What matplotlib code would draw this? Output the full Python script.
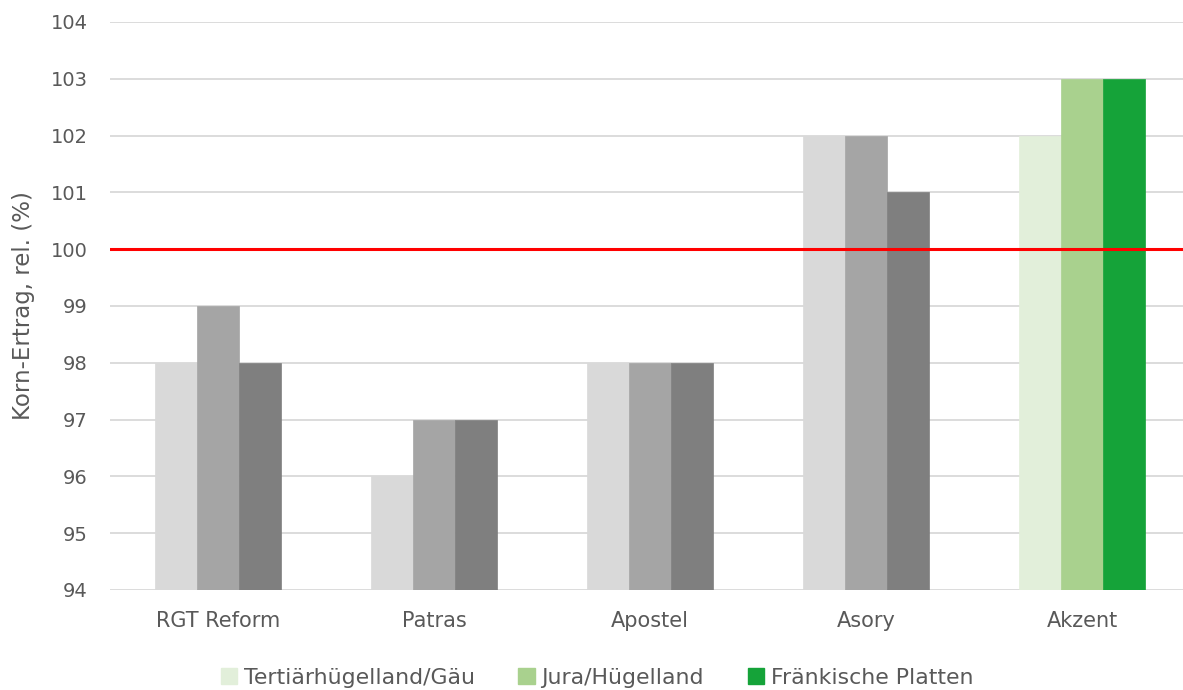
import matplotlib
matplotlib.use("Agg")
import matplotlib.pyplot as plt
from matplotlib.patches import Patch
import numpy as np

plt.rcParams['font.family'] = ['DejaVu Sans']

categories = ["RGT Reform", "Patras", "Apostel", "Asory", "Akzent"]
series_names = ["Tertiärhügelland/Gäu", "Jura/Hügelland", "Fränkische Platten"]
tertiaer = [98, 96, 98, 102, 102]
jura = [99, 97, 98, 102, 103]
fraenkisch = [98, 97, 98, 101, 103]
reference_value = 100
y_ticks = list(range(94, 105))

grey_colors = ["#D9D9D9", "#A5A5A5", "#7F7F7F"]
green_colors = ["#E2EFDA", "#A9D18E", "#15A339"]
text_color = "#595959"

fig = plt.figure(figsize=(11.83, 6.9), dpi=100)
ax = fig.add_axes([110/1183, 100/690, 1 - 110/1183, 568/690])

x = np.arange(len(categories))
w = 0.194
data = [tertiaer, jura, fraenkisch]
for i, vals in enumerate(data):
    cols = [green_colors[i] if c == "Akzent" else grey_colors[i] for c in categories]
    ax.bar(x + (i - 1) * w, np.array(vals) - 94, width=w, bottom=94, color=cols,
           edgecolor=cols, linewidth=0.5, zorder=3)

ax.axhline(reference_value, color="#FF0000", linewidth=2.2, zorder=4)

ax.set_ylim(94, 104)
ax.set_xlim(-0.5, (1183 - 110) / 216 - 0.5)
ax.set_yticks(y_ticks)
ax.set_xticks(x)
ax.set_xticklabels(categories)
ax.yaxis.grid(True, color="#D9D9D9", linewidth=1.3, zorder=0)
ax.set_axisbelow(True)
for s in ax.spines.values():
    s.set_visible(False)
ax.tick_params(axis='y', length=0, labelsize=14, colors=text_color, pad=16)
ax.tick_params(axis='x', length=0, labelsize=15, colors=text_color, pad=15)

fig.text(24/1183, 1 - 306/690, "Korn-Ertrag, rel. (%)", rotation=90, ha="center",
         va="center", fontsize=16.5, color=text_color)

handles = [Patch(facecolor=c, edgecolor=c) for c in green_colors]
fig.legend(handles, series_names, loc="center", bbox_to_anchor=(597/1183, 1 - 678/690),
           ncol=3, frameon=False, fontsize=15.8, labelcolor=text_color,
           handlelength=0.75, handleheight=0.75, handletextpad=0.3, columnspacing=2.0)

fig.savefig("out.png", dpi=100)
